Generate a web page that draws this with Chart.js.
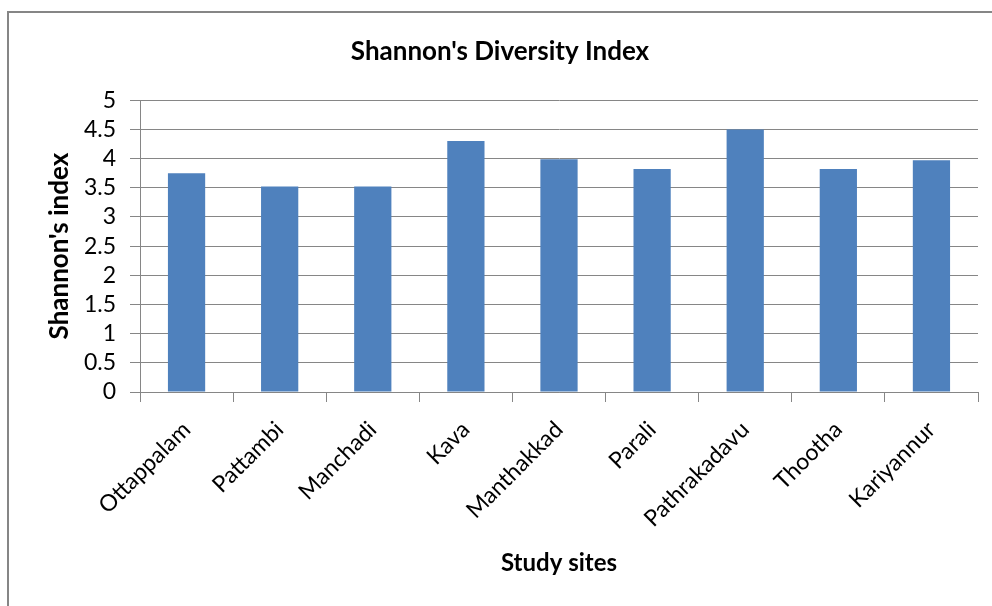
<!DOCTYPE html>
<html>
<head>
<meta charset="utf-8">
<script src="https://cdn.jsdelivr.net/npm/chart.js@4/dist/chart.umd.min.js"></script>
<style>
  html, body { margin: 0; padding: 0; background: #ffffff; }
  #wrap { width: 992px; height: 606px; position: relative; }
</style>
</head>
<body>
<div id="wrap"><canvas id="c" width="992" height="606"></canvas></div>
<script>
// Study sites and their Shannon diversity index values
const sites = ['Ottappalam', 'Pattambi', 'Manchadi', 'Kava', 'Manthakkad', 'Parali', 'Pathrakadavu', 'Thootha', 'Kariyannur'];
const shannonIndex = [3.75, 3.52, 3.52, 4.30, 3.99, 3.82, 4.50, 3.82, 3.97];
const yTicks = [0, 0.5, 1, 1.5, 2, 2.5, 3, 3.5, 4, 4.5, 5];

const FONT = 'Lato, "Open Sans", sans-serif';
const GRID = '#868686';

// Frame drawn around the whole chart
const framePlugin = {
  id: 'frame',
  beforeDraw(chart) {
    const ctx = chart.ctx;
    ctx.save();
    ctx.fillStyle = '#ffffff';
    ctx.fillRect(0, 0, chart.width, chart.height);
    ctx.strokeStyle = GRID;
    ctx.lineWidth = 2;
    ctx.strokeRect(8, 12, chart.width + 20, chart.height + 20);
    ctx.restore();
  }
};

new Chart(document.getElementById('c'), {
  type: 'bar',
  data: {
    labels: sites,
    datasets: [{
      label: "Shannon's index",
      data: shannonIndex,
      backgroundColor: '#4f81bd',
      borderWidth: 0,
      barPercentage: 0.4,
      categoryPercentage: 1.0
    }]
  },
  options: {
    responsive: false,
    animation: false,
    devicePixelRatio: 1,
    layout: { padding: { left: 22, right: 14, top: 0, bottom: 20 } },
    plugins: {
      legend: { display: false },
      tooltip: { enabled: false },
      title: {
        display: true,
        text: "Shannon's Diversity Index",
        color: '#000000',
        font: { family: FONT, size: 26, weight: 'bold' },
        padding: { top: 36, bottom: 33 }
      }
    },
    scales: {
      x: {
        grid: {
          display: true,
          offset: true,
          drawOnChartArea: false,
          drawTicks: true,
          tickLength: 10,
          color: GRID
        },
        border: { display: true, color: GRID, width: 1 },
        ticks: {
          color: '#000000',
          font: { family: FONT, size: 23 },
          maxRotation: 45,
          minRotation: 45,
          autoSkip: false,
          padding: 14
        },
        title: {
          display: true,
          text: 'Study sites',
          color: '#000000',
          font: { family: FONT, size: 24, weight: 'bold' },
          padding: { top: 0, bottom: 8 }
        },
        afterFit(scale) { scale.height = 194; }
      },
      y: {
        min: 0,
        max: 5,
        afterBuildTicks(scale) { scale.ticks = yTicks.map(v => ({ value: v })); },
        grid: {
          color: GRID,
          lineWidth: 1,
          drawTicks: true,
          tickLength: 10
        },
        border: { display: true, color: GRID, width: 1 },
        ticks: {
          color: '#000000',
          font: { family: FONT, size: 23, lineHeight: 1 },
          padding: 14,
          autoSkip: false,
          callback: v => String(v)
        },
        title: {
          display: true,
          text: "Shannon's index",
          color: '#000000',
          font: { family: FONT, size: 26, weight: 'bold' },
          padding: { top: 22, bottom: 0 }
        },
        afterFit(scale) { scale.width = 118; }
      }
    }
  },
  plugins: [framePlugin]
});
</script>
</body>
</html>
